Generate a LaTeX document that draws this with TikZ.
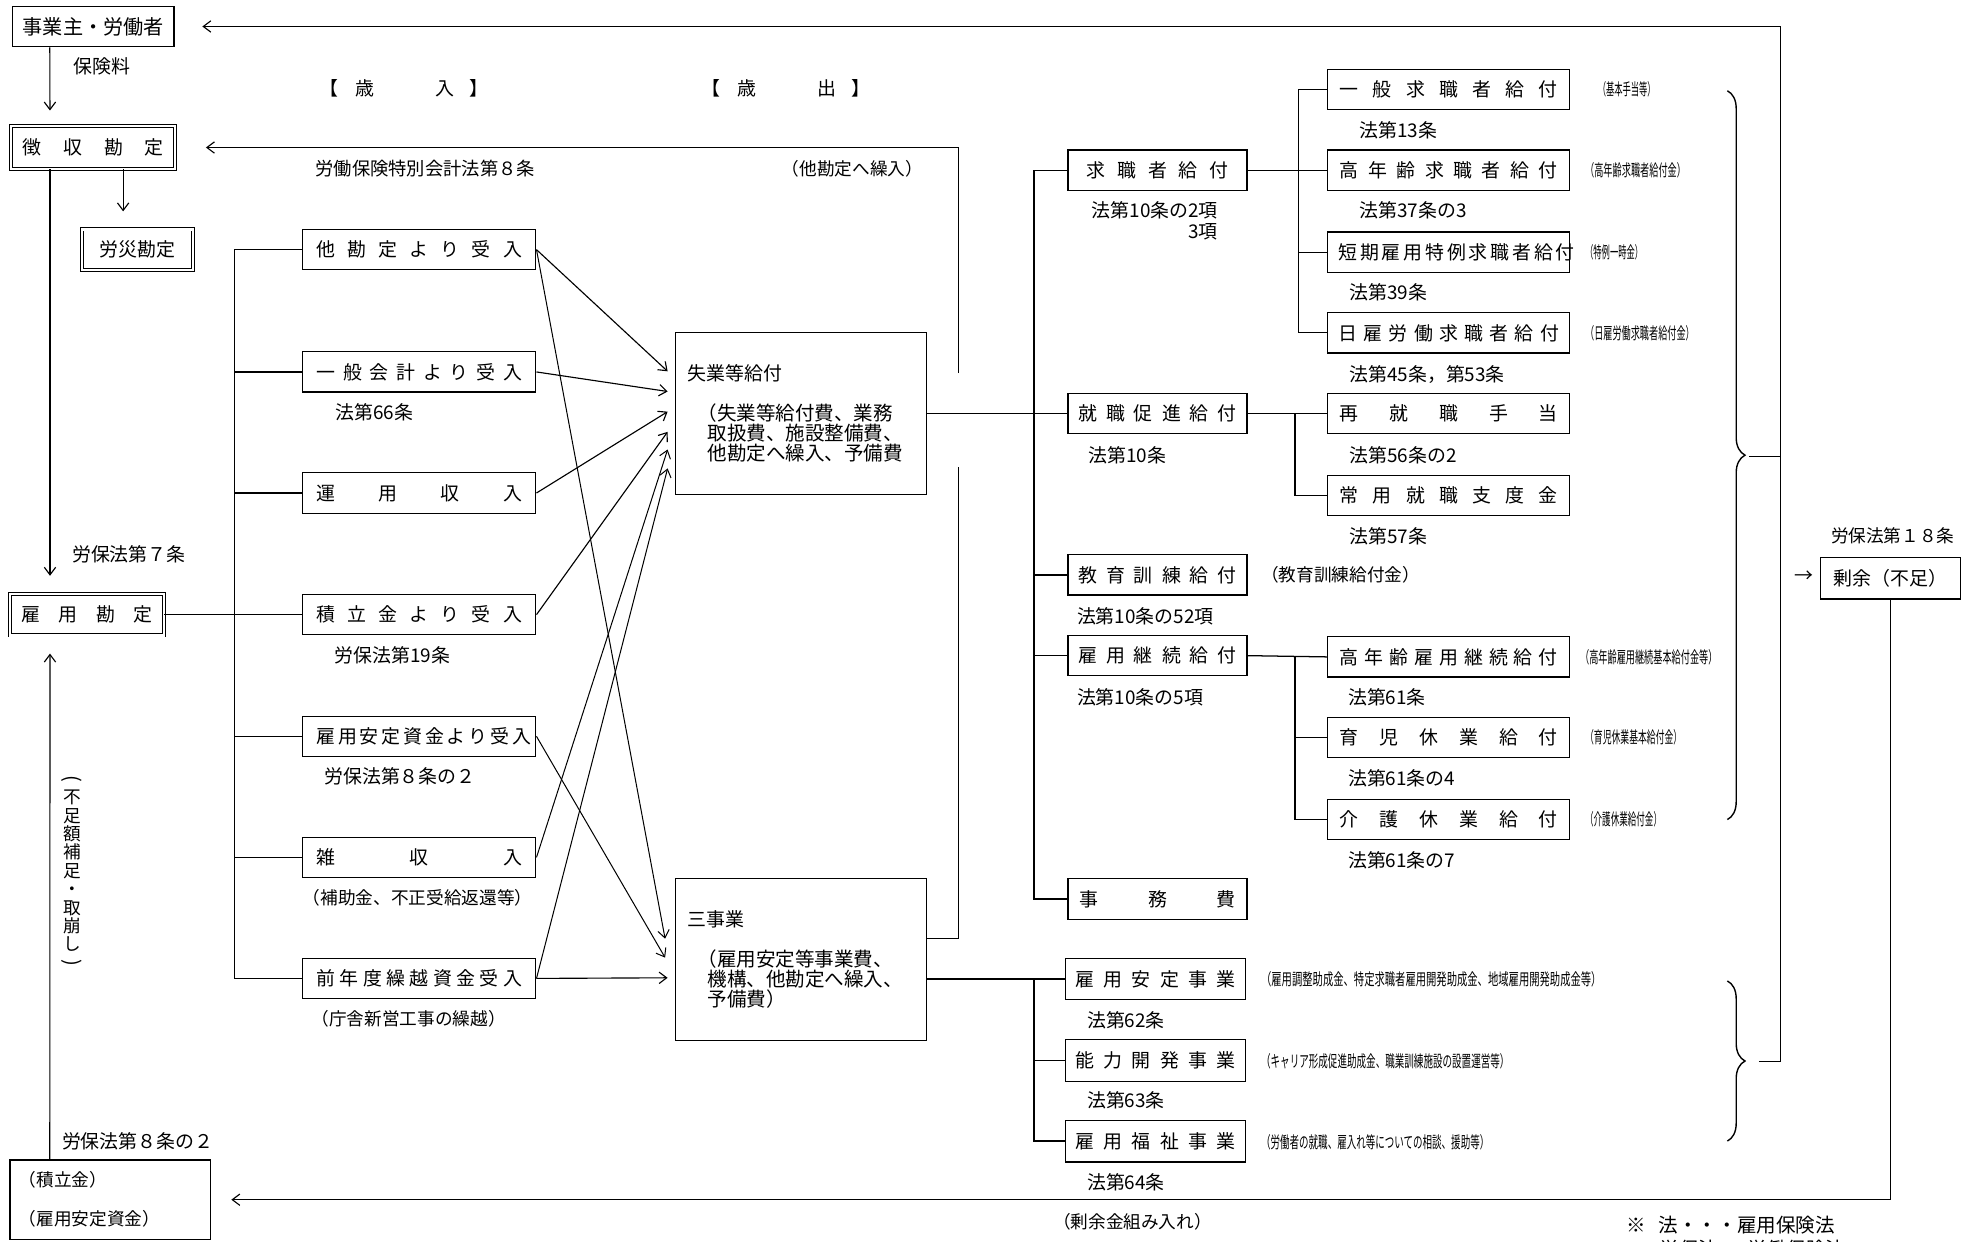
\documentclass[tikz,border=0pt]{standalone}
\usepackage{fontspec}
\setmainfont{Noto Sans CJK JP}
\usepackage{graphicx}
\usetikzlibrary{arrows.meta,calc,decorations.pathreplacing}
\newcommand\fsz[1]{\fontsize{#1}{#1}\selectfont}
\newcommand\spr[2]{\makebox[#1pt][s]{#2}}
\newcommand\nt[2]{\resizebox{#1pt}{\height}{\fsz{13}#2}}
\begin{document}
\begin{tikzpicture}[x=1pt,y=-1pt,
  bx/.style={draw, line width=1pt, inner sep=0pt, font=\fsz{15}},
  dbx/.style={bx, double, double distance=1.8pt, line width=0.7pt},
  lbl/.style={inner sep=0pt, anchor=west, font=\fsz{15}},
  slbl/.style={lbl, font=\fsz{14}},
  ntn/.style={inner sep=0pt, anchor=west},
  ln/.style={line width=1pt},
  arr/.style={line width=0.9pt, -{Straight Barb[length=6pt,width=9pt]}},
  tarr/.style={line width=0.8pt, -{Straight Barb[length=6pt,width=9pt]}},
  brc/.style={decorate, decoration={brace, amplitude=14pt}, line width=1.1pt}]
\useasboundingbox (0,0) rectangle (1568,985);

% ---------------- left column ----------------
\node[bx, minimum width=128, minimum height=32] (jigyo) at (74,21) {\fsz{16}事業主・労働者};
\node[dbx, minimum width=130, minimum height=34] (choushu) at (74,117) {\spr{112}{徴 収 勘 定}};
\node[dbx, minimum width=88, minimum height=32] (rousai) at (109,198) {労災勘定};
\node[dbx, minimum width=122, minimum height=33] (koyoukan) at (69,487.5) {\spr{104}{雇 用 勘 定}};
\node[bx, minimum width=159, minimum height=63, align=left, text width=145,
      font={\fontsize{14}{31}\selectfont}] (tsumikin) at (87.5,951.5) {（積立金）\\（雇用安定資金）};

\node[lbl] (hokenryo) at (58,53) {保険料};
\node[lbl] (rh7) at (57,440) {労保法第７条};
\node[lbl] (rh82b) at (49,905) {労保法第８条の２};
\node[inner sep=0pt, align=center, font={\fontsize{14}{14.6}\selectfont}] (vt) at (57,692)
  {\rotatebox[origin=c]{-90}{\fsz{16}(}\\不\\足\\額\\補\\足\\・\\取\\崩\\し\\\rotatebox[origin=c]{-90}{\fsz{16})}};

\draw[arr, shorten >=12pt] ($(jigyo.south west)+(30,0)$) -- ($(choushu.north west)+(31,0)$);
\draw[arr, shorten >=14pt] ($(choushu.south west)+(89,0)$) -- ($(rousai.north west)+(33,0)$);
\draw[arr, shorten >=14pt] ($(choushu.south west)+(31,0)$) -- ($(koyoukan.north west)+(32,0)$);
\draw[arr, shorten >=14pt] ($(tsumikin.north west)+(32,0)$) -- ($(koyoukan.south west)+(32,0)$);

% ---------------- headings ----------------
\node[lbl] (sainyu) at (253,70) {【\hspace{14pt}歳\hspace{48pt}入\hspace{12pt}】};
\node[lbl] (saishutsu) at (556,70) {【\hspace{14pt}歳\hspace{48pt}出\hspace{12pt}】};
\node[lbl, font=\fsz{14.5}] (tokkai) at (250,134) {労働保険特別会計法第８条};
\node[slbl] (takanjo) at (620,134) {（他勘定へ繰入）};

% ---------------- revenue boxes ----------------
\node[bx, minimum width=185, minimum height=32] (tak) at (332.5,198) {\spr{163}{他 勘 定 よ り 受 入}};
\node[bx, minimum width=185, minimum height=32] (ippan) at (332.5,295) {\spr{163}{一 般 会 計 よ り 受 入}};
\node[bx, minimum width=185, minimum height=32] (unyou) at (332.5,391) {\spr{163}{運 用 収 入}};
\node[bx, minimum width=185, minimum height=32] (tsumi) at (332.5,487.5) {\spr{163}{積 立 金 よ り 受 入}};
\node[bx, minimum width=185, minimum height=32] (anteiin) at (332.5,584) {\spr{163}{雇 用 安 定 資 金 よ り 受 入}};
\node[bx, minimum width=185, minimum height=32] (zatsu) at (332.5,680) {\spr{163}{雑 収 入}};
\node[bx, minimum width=185, minimum height=32] (zen) at (332.5,776) {\spr{163}{前 年 度 繰 越 資 金 受 入}};

\node[lbl] (l66) at (266,327) {法第66条};
\node[lbl] (l19) at (265,520) {労保法第19条};
\node[lbl] (l82) at (257,616) {労保法第８条の２};
\node[slbl] (lhojo) at (240,712) {（補助金、不正受給返還等）};
\node[slbl] (lchousha) at (247,808) {（庁舎新営工事の繰越）};

\coordinate (lbus) at (186,0);
\draw[ln] (tak.west) -| (zen.west -| lbus) -- (zen.west);
\foreach \n in {ippan,unyou,anteiin,zatsu} \draw[ln] (\n.west) -- (\n.west -| lbus);
\draw[ln] (koyoukan.east) -- (tsumi.west);

% ---------------- expenditure boxes ----------------
\node[bx, minimum width=199, minimum height=128] (shitsu) at (635.5,328) {};
\node[lbl] (shitsut) at (545,296) {失業等給付};
\node[inner sep=0pt, anchor=north west, align=left, font={\fontsize{15.5}{16}\selectfont}] (shitsud) at (553,320)
  {（失業等給付費、業務\\\hspace{8pt}取扱費、施設整備費、\\\hspace{8pt}他勘定へ繰入、予備費};
\node[bx, minimum width=199, minimum height=128] (sanj) at (635.5,761) {};
\node[lbl] (sanjt) at (545,729) {三事業};
\node[inner sep=0pt, anchor=north west, align=left, font={\fontsize{15.5}{16}\selectfont}] (sanjd) at (553,753)
  {（雇用安定等事業費、\\\hspace{8pt}機構、他勘定へ繰入、\\\hspace{8pt}予備費）};

% arrows into 失業等給付
\draw[arr] (tak.east) -- ($(shitsu.north west)+(-6,31)$);
\draw[arr] (ippan.east) -- ($(shitsu.north west)+(-6,47)$);
\draw[arr] (unyou.east) -- ($(shitsu.north west)+(-6,63)$);
\draw[arr] (tsumi.east) -- ($(shitsu.north west)+(-6,79)$);
\draw[tarr] (zatsu.east) -- ($(shitsu.north west)+(-6,93)$);
\draw[tarr] (zen.east) -- ($(shitsu.north west)+(-6,108)$);
% arrows into 三事業
\draw[tarr] (tak.east) -- ($(sanj.north west)+(-8,48)$);
\draw[tarr] (anteiin.east) -- ($(sanj.north west)+(-8,63)$);
\draw[arr] (zen.east) -- ($(sanj.north west)+(-6,79)$);

% 他勘定へ繰入 line
\coordinate (g1) at (760,370);
\coordinate (g2) at (760,296);
\draw[ln] ($(sanj.north east)+(0,48)$) -| (g1);
\draw[arr, shorten >=24pt] (g2) |- (choushu.east);

% ---------------- second level ----------------
\node[bx, minimum width=142, minimum height=32] (kyu) at (918,135) {\spr{112}{求 職 者 給 付}};
\node[bx, minimum width=142, minimum height=32] (shuu) at (918,328) {\spr{126}{就 職 促 進 給 付}};
\node[bx, minimum width=142, minimum height=32] (kyoiku) at (918,456) {\spr{126}{教 育 訓 練 給 付}};
\node[bx, minimum width=142, minimum height=32] (keizoku) at (918,520) {\spr{126}{雇 用 継 続 給 付}};
\node[bx, minimum width=142, minimum height=32] (jimu) at (918,713) {\spr{124}{事 務 費}};

\node[bx, minimum width=143, minimum height=33] (ante) at (916.5,776.5) {\spr{127}{雇 用 安 定 事 業}};
\node[bx, minimum width=143, minimum height=33] (nouryoku) at (916.5,841) {\spr{127}{能 力 開 発 事 業}};
\node[bx, minimum width=143, minimum height=33] (fukushi) at (916.5,905) {\spr{127}{雇 用 福 祉 事 業}};

\node[inner sep=0pt, anchor=north east, align=right, font={\fontsize{15}{16}\selectfont}] (l102) at (966,160) {法第10条の2項\\3項};
\node[lbl] (l10) at (863,361) {法第10条};
\node[slbl] (lkyoiku) at (1000,456) {（教育訓練給付金）};
\node[lbl] (l1052) at (854,489) {法第10条の52項};
\node[lbl] (l105) at (854,553) {法第10条の5項};
\node[lbl] (l62) at (862,809) {法第62条};
\node[lbl] (l63) at (862,873) {法第63条};
\node[lbl] (l64) at (862,938) {法第64条};

\node[ntn] (n62) at (1000,777) {\nt{270}{（雇用調整助成金、特定求職者雇用開発助成金、地域雇用開発助成金等）}};
\node[ntn] (n63) at (1000,842) {\nt{197}{（キャリア形成促進助成金、職業訓練施設の設置運営等）}};
\node[ntn] (n64) at (1000,906) {\nt{181}{（労働者の就職、雇入れ等についての相談、援助等）}};

\coordinate (rbus) at (820,0);
\draw[ln] (kyu.west) -| (jimu.west -| rbus) -- (jimu.west);
\foreach \n in {shuu,kyoiku,keizoku} \draw[ln] (\n.west) -- (\n.west -| rbus);
\draw[ln] (shitsu.east) -- (shuu.west);
\draw[ln] (sanj.east |- ante.west) -- (ante.west);
\draw[ln] (ante.west -| rbus) |- (fukushi.west);
\draw[ln] (nouryoku.west) -- (nouryoku.west -| rbus);

% ---------------- third level ----------------
\node[bx, minimum width=192, minimum height=32] (q1) at (1149,71) {\spr{173}{一 般 求 職 者 給 付}};
\node[bx, minimum width=192, minimum height=32] (q2) at (1149,135) {\spr{173}{高 年 齢 求 職 者 給 付}};
\node[bx, minimum width=192, minimum height=32] (q3) at (1149,200) {\spr{175}{短 期 雇 用 特 例 求 職 者 給 付}};
\node[bx, minimum width=192, minimum height=32] (q4) at (1149,264) {\spr{175}{日 雇 労 働 求 職 者 給 付}};
\node[bx, minimum width=192, minimum height=32] (s1) at (1149,328) {\spr{173}{再 就 職 手 当}};
\node[bx, minimum width=192, minimum height=32] (s2) at (1149,393) {\spr{173}{常 用 就 職 支 度 金}};
\node[bx, minimum width=192, minimum height=32] (k1) at (1149,521) {\spr{173}{高 年 齢 雇 用 継 続 給 付}};
\node[bx, minimum width=192, minimum height=32] (k2) at (1149,585) {\spr{173}{育 児 休 業 給 付}};
\node[bx, minimum width=192, minimum height=32] (k3) at (1149,650) {\spr{173}{介 護 休 業 給 付}};

\node[lbl] (l13) at (1078,103) {法第13条};
\node[lbl] (l373) at (1078,167) {法第37条の3};
\node[lbl] (l39) at (1070,232) {法第39条};
\node[lbl] (l45) at (1070,297) {法第45条，第53条};
\node[lbl] (l562) at (1070,361) {法第56条の2};
\node[lbl] (l57) at (1070,425) {法第57条};
\node[lbl] (l61) at (1069,553) {法第61条};
\node[lbl] (l614) at (1069,617) {法第61条の4};
\node[lbl] (l617) at (1069,682) {法第61条の7};

\node[ntn] (nq1) at (1267,71) {\nt{46}{（基本手当等）}};
\node[ntn] (nq2) at (1257,135) {\nt{80}{（高年齢求職者給付金）}};
\node[ntn] (nq3) at (1257,200) {\nt{46}{（特例一時金）}};
\node[ntn] (nq4) at (1257,264) {\nt{87}{（日雇労働求職者給付金）}};
\node[ntn] (nk1) at (1253,521) {\nt{109}{（高年齢雇用継続基本給付金等）}};
\node[ntn] (nk2) at (1257,585) {\nt{77}{（育児休業基本給付金）}};
\node[ntn] (nk3) at (1257,650) {\nt{61}{（介護休業給付金）}};

\coordinate (qbus) at (1030,0);
\coordinate (sbus) at (1027,0);
\draw[ln] (q1.west) -| (q4.west -| qbus) -- (q4.west);
\draw[ln] (kyu.east) -- (q2.west);
\draw[ln] (q3.west) -- (q3.west -| qbus);
\draw[ln] (shuu.east) -- (s1.west);
\draw[ln] (s1.west -| sbus) |- (s2.west);
\draw[ln] (keizoku.east) -- (k1.west);
\draw[ln] (k1.west -| sbus) |- (k3.west);
\draw[ln] (k2.west) -- (k2.west -| sbus);

% ---------------- braces and right side ----------------
\draw[brc] (1370,72) -- (1370,650);
\draw[brc] (1370,778) -- (1370,905);
\coordinate (b1) at (1387,362);
\coordinate (b2) at (1395,842);
\coordinate (rtop) at (1412,21);
\coordinate (rmid) at (1412,362);
\coordinate (rbot) at (1412,842);
\draw[ln] (b1) -- (rmid);
\draw[ln] (b2) -- (rbot) -- (rtop);
\draw[arr, shorten >=22pt] (rtop) -- (jigyo.east);

\node[bx, minimum width=111, minimum height=33] (jouyo) at (1499.5,458.5) {剰余（不足）};
\node[lbl, font=\fsz{14}] (l18) at (1452,425) {労保法第１８条};
\node[inner sep=0pt, font=\fsz{15}] (arrg) at (1431,457) {→};
\draw[arr, shorten >=16pt] (jouyo.south) |- (tsumikin.east);
\node[slbl] (lkumi) at (835,969) {（剰余金組み入れ）};

\node[lbl, font=\fsz{15.5}] (foot1) at (1290,972) {※\hspace{10pt}法・・・雇用保険法};
\node[lbl, font=\fsz{15.5}] (foot2) at (1316,991) {労保法･･･労働保険法};
\end{tikzpicture}
\end{document}
